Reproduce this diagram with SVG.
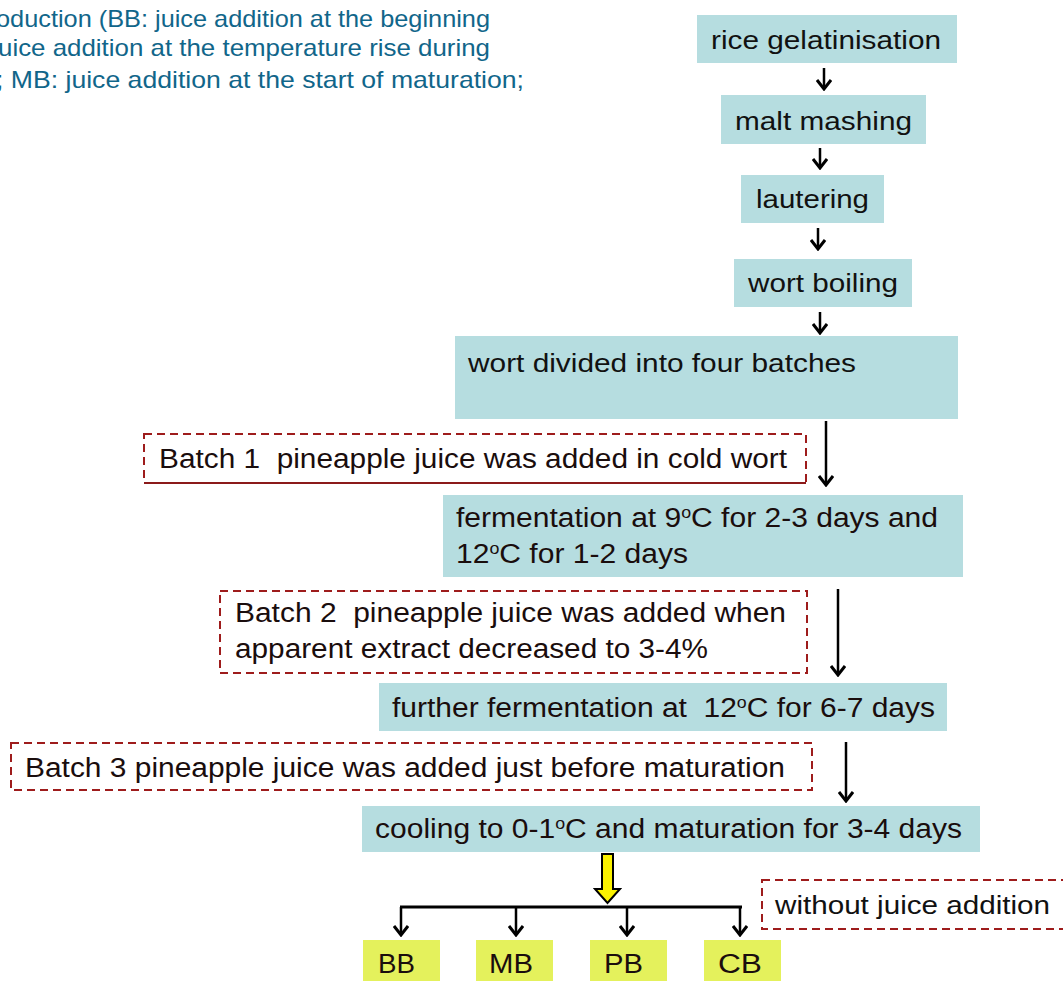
<svg xmlns="http://www.w3.org/2000/svg" width="1063" height="981" viewBox="0 0 1063 981">
<defs>
<style>
.box{fill:#b6dde0}
.ybox{fill:#e4f15c}
text{white-space:pre}
.t{font-family:"Liberation Sans",Arial,sans-serif;font-size:26px;fill:#111}
.n{font-family:"Liberation Sans",Arial,sans-serif;font-size:27px;fill:#1a0d0d}
.cap{font-family:"Liberation Sans",Arial,sans-serif;font-size:24px;fill:#11668a}
.dash{fill:none;stroke:#9e1c1c;stroke-width:2;stroke-dasharray:8 5}
.ln{fill:none;stroke:#000;stroke-width:2.5}
</style>
<marker id="ah" viewBox="0 0 14 16" refX="12" refY="8" markerWidth="14" markerHeight="16" markerUnits="userSpaceOnUse" orient="auto">
<polyline points="3,1 12,8 3,15" fill="none" stroke="#000" stroke-width="3"/>
</marker>
</defs>
<rect width="1063" height="981" fill="#fff"/>

<g id="caption">
<text class="cap" x="-4" y="27" textLength="494" lengthAdjust="spacingAndGlyphs">oduction (BB: juice addition at the beginning</text>
<text class="cap" x="-2" y="56" textLength="492" lengthAdjust="spacingAndGlyphs">uice addition at the temperature rise during</text>
<text class="cap" x="-4" y="88" textLength="528" lengthAdjust="spacingAndGlyphs">; MB: juice addition at the start of maturation;</text>
</g>

<g id="n_rice"><rect class="box" x="697" y="15" width="260" height="48"/><text class="t" x="711" y="49" textLength="230" lengthAdjust="spacingAndGlyphs">rice gelatinisation</text></g>
<g id="n_malt"><rect class="box" x="721" y="95" width="205" height="49"/><text class="t" x="735" y="130" textLength="177" lengthAdjust="spacingAndGlyphs">malt mashing</text></g>
<g id="n_laut"><rect class="box" x="741" y="175" width="143" height="48"/><text class="t" x="756" y="208" textLength="113" lengthAdjust="spacingAndGlyphs">lautering</text></g>
<g id="n_boil"><rect class="box" x="734" y="259" width="178" height="48"/><text class="t" x="748" y="292" textLength="150" lengthAdjust="spacingAndGlyphs">wort boiling</text></g>
<g id="n_div"><rect class="box" x="455" y="336" width="503" height="83"/><text class="t" x="468" y="372" textLength="388" lengthAdjust="spacingAndGlyphs">wort divided into four batches</text></g>
<g id="n_b1"><rect class="dash" x="144" y="434" width="662" height="49"/><line x1="144" y1="483" x2="806" y2="483" stroke="#8b1a1a" stroke-width="2"/><text class="n" x="159" y="468" textLength="628" lengthAdjust="spacingAndGlyphs">Batch 1  pineapple juice was added in cold wort</text></g>
<g id="n_ferm"><rect class="box" x="443" y="495" width="520" height="82"/>
<text class="n" x="456" y="527" textLength="482" lengthAdjust="spacingAndGlyphs">fermentation at 9<tspan font-size="16" dy="-9">o</tspan><tspan dy="9">C for 2-3 days and</tspan></text>
<text class="n" x="456" y="563" textLength="232" lengthAdjust="spacingAndGlyphs">12<tspan font-size="16" dy="-9">o</tspan><tspan dy="9">C for 1-2 days</tspan></text></g>
<g id="n_b2"><rect class="dash" x="220" y="591" width="587" height="82"/>
<text class="n" x="235" y="622" textLength="551" lengthAdjust="spacingAndGlyphs">Batch 2  pineapple juice was added when</text>
<text class="n" x="235" y="658" textLength="473" lengthAdjust="spacingAndGlyphs">apparent extract decreased to 3-4%</text></g>
<g id="n_further"><rect class="box" x="379" y="683" width="568" height="48"/>
<text class="n" x="392" y="717" textLength="543" lengthAdjust="spacingAndGlyphs">further fermentation at  12<tspan font-size="16" dy="-9">o</tspan><tspan dy="9">C for 6-7 days</tspan></text></g>
<g id="n_b3"><rect class="dash" x="11" y="743" width="801" height="47"/>
<text class="n" x="25" y="777" textLength="760" lengthAdjust="spacingAndGlyphs">Batch 3 pineapple juice was added just before maturation</text></g>
<g id="n_cool"><rect class="box" x="362" y="806" width="618" height="46"/>
<text class="n" x="375" y="838" textLength="587" lengthAdjust="spacingAndGlyphs">cooling to 0-1<tspan font-size="16" dy="-9">o</tspan><tspan dy="9">C and maturation for 3-4 days</tspan></text></g>
<g id="n_without"><rect class="dash" x="762" y="880" width="310" height="49"/>
<text class="t" x="775" y="914" textLength="275" lengthAdjust="spacingAndGlyphs">without juice addition</text></g>
<g id="n_BB"><rect class="ybox" x="363" y="940" width="77" height="41"/><text class="n" x="378" y="973" textLength="37" lengthAdjust="spacingAndGlyphs">BB</text></g>
<g id="n_MB"><rect class="ybox" x="476" y="940" width="77" height="41"/><text class="n" x="489" y="973" textLength="44" lengthAdjust="spacingAndGlyphs">MB</text></g>
<g id="n_PB"><rect class="ybox" x="590" y="940" width="77" height="41"/><text class="n" x="604" y="973" textLength="39" lengthAdjust="spacingAndGlyphs">PB</text></g>
<g id="n_CB"><rect class="ybox" x="704" y="940" width="77" height="41"/><text class="n" x="718" y="973" textLength="44" lengthAdjust="spacingAndGlyphs">CB</text></g>

<g id="connectors">
<line class="ln" x1="824" y1="68" x2="824" y2="89" marker-end="url(#ah)"/>
<line class="ln" x1="820" y1="148" x2="820" y2="168" marker-end="url(#ah)"/>
<line class="ln" x1="818" y1="228" x2="818" y2="249" marker-end="url(#ah)"/>
<line class="ln" x1="820" y1="312" x2="820" y2="333" marker-end="url(#ah)"/>
<line class="ln" x1="826" y1="421" x2="826" y2="485" marker-end="url(#ah)"/>
<line class="ln" x1="838" y1="589" x2="838" y2="675" marker-end="url(#ah)"/>
<line class="ln" x1="846" y1="742" x2="846" y2="801" marker-end="url(#ah)"/>
<polygon points="602,854 613,854 613,889 620,889 607.5,903 595,889 602,889" fill="#fbf200" stroke="#000" stroke-width="2"/>
<line x1="400" y1="907" x2="742" y2="907" stroke="#000" stroke-width="3"/>
<line class="ln" x1="401" y1="907" x2="401" y2="935" marker-end="url(#ah)"/>
<line class="ln" x1="516" y1="907" x2="516" y2="935" marker-end="url(#ah)"/>
<line class="ln" x1="627" y1="907" x2="627" y2="935" marker-end="url(#ah)"/>
<line class="ln" x1="740" y1="907" x2="740" y2="935" marker-end="url(#ah)"/>
</g>
</svg>
